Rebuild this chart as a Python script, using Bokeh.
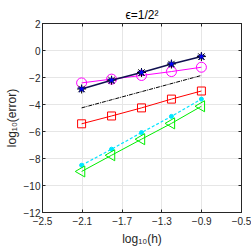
import math
from bokeh.plotting import figure
from bokeh.models import FixedTicker, LinearAxis, Range1d
from bokeh.embed import file_html
from bokeh.resources import INLINE

log_h = [-2.107, -1.806, -1.505, -1.204, -0.903]
err_star = [-2.85, -2.2, -1.63, -1.0, -0.45]
err_circle = [-2.4, -2.12, -1.85, -1.56, -1.24]
err_square = [-5.43, -4.85, -4.25, -3.6, -3.0]
err_dot = [-8.5, -7.31, -6.08, -4.88, -3.6]
err_tri = [-8.96, -7.76, -6.57, -5.4, -4.13]
ref_x = [-2.107, -0.903]
ref_y = [-4.25, -1.85]
x_ticks = [-2.5, -2.1, -1.7, -1.3, -0.9, -0.5]
y_ticks = [-12, -10, -8, -6, -4, -2, 0, 2]

FONT = "Liberation Sans"
AX = "#262626"

p = figure(width=251, height=251, output_backend="svg", toolbar_location=None,
           x_range=Range1d(-2.5, -0.5), y_range=Range1d(-12, 2),
           title="ϵ=1/2²", min_border_left=42, min_border_right=10,
           min_border_top=23, min_border_bottom=39)
p.title.align = "center"
p.title.text_font = FONT
p.title.text_font_size = "12px"
p.title.text_font_style = "normal"
p.title.text_color = "#000000"
p.title.standoff = 3

p.outline_line_color = AX
p.background_fill_color = "white"
p.border_fill_color = "white"

for ax, ticks in ((p.xaxis[0], x_ticks), (p.yaxis[0], y_ticks)):
    ax.ticker = FixedTicker(ticks=ticks)
    ax.major_tick_in = 3
    ax.major_tick_out = 0
    ax.minor_tick_line_color = None
    ax.axis_line_color = AX
    ax.major_tick_line_color = AX
    ax.major_label_text_font = FONT
    ax.major_label_text_font_size = "10px"
    ax.major_label_text_color = AX
    ax.axis_label_text_font = FONT
    ax.axis_label_text_font_size = "12px"
    ax.axis_label_text_font_style = "normal"
    ax.axis_label_text_color = AX
p.xaxis.axis_label = "log₁₀(h)"
p.yaxis.axis_label = "log₁₀(error)"
p.xaxis.major_label_standoff = 4
p.yaxis.major_label_standoff = 2
p.xaxis.axis_label_standoff = 4
p.yaxis.axis_label_standoff = 2

for side, ticks in (("above", x_ticks), ("right", y_ticks)):
    a = LinearAxis(ticker=FixedTicker(ticks=ticks), major_tick_in=3, major_tick_out=0,
                   minor_tick_line_color=None, axis_line_color=AX, major_tick_line_color=AX,
                   major_label_overrides={t: "" for t in ticks}, major_label_standoff=0,
                   major_label_text_font_size="1px")
    p.add_layout(a, side)

p.xgrid.ticker = FixedTicker(ticks=x_ticks)
p.ygrid.ticker = FixedTicker(ticks=y_ticks)
p.grid.grid_line_color = "#e6e6e6"
p.grid.grid_line_width = 1

# reference slope line
p.line(ref_x, ref_y, line_color="black", line_dash="4 1 1 1", line_width=1)

# magenta circles
p.line(log_h, err_circle, line_color="#ff00ff", line_width=1)
p.scatter(log_h, err_circle, marker="circle", size=10, fill_color=None,
          line_color="#ff00ff", line_width=1)

# red squares
p.line(log_h, err_square, line_color="#ff0000", line_width=1)
p.scatter(log_h, err_square, marker="square", size=8, fill_color=None,
          line_color="#ff0000", line_width=1)

# cyan dashed with dots
p.line(log_h, err_dot, line_color="#00e5ff", line_width=1.2, line_dash="3 2")
p.scatter(log_h, err_dot, marker="circle", size=4, fill_color="#00e5ff",
          line_color="#00e5ff")

# green triangles (left)
p.line(log_h, err_tri, line_color="#00ee00", line_width=1)
p.scatter(log_h, err_tri, marker="triangle", size=11, angle=math.pi / 2,
          fill_color=None, line_color="#00ee00", line_width=1)

# navy/black stars
p.line(log_h, err_star, line_color="#101050", line_width=1.6)
p.scatter(log_h, err_star, marker="asterisk", size=9, line_color="black", line_width=1)
p.scatter(log_h, err_star, marker="star", size=8, fill_color="#0000ff",
          line_color="#000060", line_width=0.6)

open("out.html", "w").write(file_html(p, INLINE))
